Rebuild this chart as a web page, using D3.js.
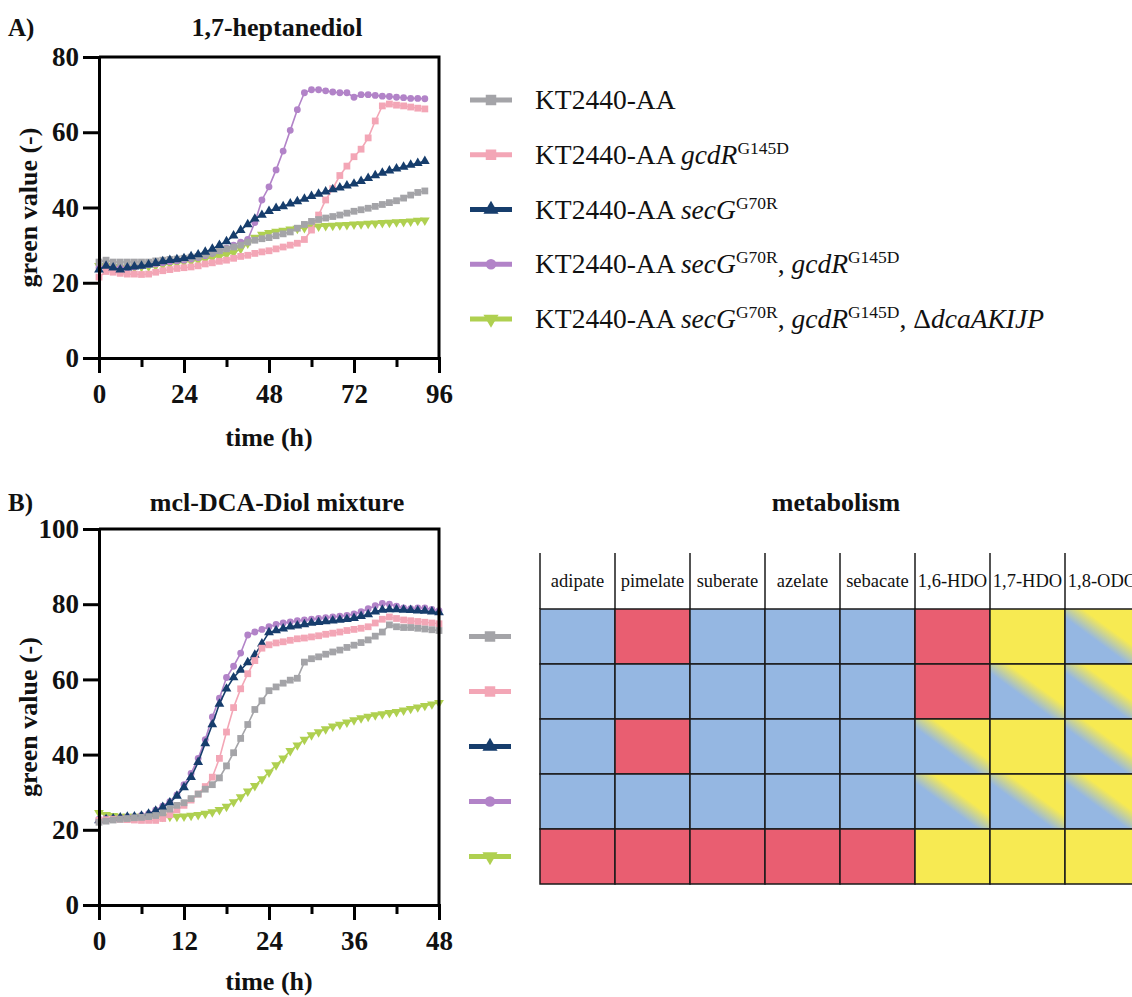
<!DOCTYPE html>
<html>
<head>
<meta charset="utf-8">
<script src="https://cdnjs.cloudflare.com/ajax/libs/d3/7.8.5/d3.min.js"></script>
<style>
  body { margin: 0; background: #fff; }
  svg text { font-family: "Liberation Serif", "Times New Roman", serif; fill: #111; }
</style>
</head>
<body>
<svg id="chart" width="1132" height="997"></svg>
<script>
// ---- data ----
const strains = ["wt", "gcdR", "secG", "secG_gcdR", "secG_gcdR_dca"];
const colors = ["#a4a4a8", "#f3a6b6", "#163d6c", "#b283c8", "#afd050"];
const symbols = ["square", "square", "triUp", "circle", "triDown"];

// legend texts: [text, style] parts
const labels = [
  [["KT2440-AA", ""]],
  [["KT2440-AA ", ""], ["gcdR", "i"], ["G145D", "sup"]],
  [["KT2440-AA ", ""], ["secG", "i"], ["G70R", "sup"]],
  [["KT2440-AA ", ""], ["secG", "i"], ["G70R", "sup"], [", ", ""], ["gcdR", "i"], ["G145D", "sup"]],
  [["KT2440-AA ", ""], ["secG", "i"], ["G70R", "sup"], [", ", ""], ["gcdR", "i"], ["G145D", "sup"], [", \u0394", ""], ["dcaAKIJP", "i"]]
];

// panel A: 1,7-heptanediol, time in h
const timeA = [0, 2, 4, 6, 8, 10, 12, 14, 16, 18, 20, 22, 24, 26, 28, 30, 32, 34, 36, 38, 40, 42, 44, 46,
  48, 50, 52, 54, 56, 58, 60, 62, 64, 66, 68, 70, 72, 74, 76, 78, 80, 82, 84, 86, 88, 90, 92];
const grayA = [25.5, 26, 25.5, 25.5, 25.5, 25.5, 25.5, 25.5, 25.8, 26, 26.2, 26.3, 26.5, 26.8, 27, 27.5, 28, 28.5, 29, 29.5, 30, 30.8, 31.3,
  31.7, 32, 32.5, 33, 33.5, 34.5, 35.5, 36.3, 36.8, 37.2, 37.6, 38, 38.5, 39, 39.4, 39.8, 40.3, 40.8, 41.3, 41.8, 42.5, 43.3, 44, 44.4];
const pinkA = [21.5, 23, 22.8, 22.5, 22.3, 22.3, 22.2, 22.3, 22.8, 23.2, 23.5, 23.8, 24, 24.2, 24.5, 25, 25.3, 25.7, 26, 26.5, 27, 27.3, 27.8,
  28.2, 28.5, 29, 29.5, 30, 30.5, 31.5, 34, 38, 42, 45, 48.5, 51, 53.5, 55.5, 58.5, 63, 67, 67.5, 67.2, 67, 66.7, 66.4, 66.2];
const navyA = [23.5, 24.5, 24, 23.5, 24, 24.3, 24.5, 24.8, 25.2, 25.7, 26, 26.2, 26.5, 27, 27.5, 28.2, 29, 30, 31, 32.5, 34, 35.5, 37,
  38, 39, 39.8, 40.3, 41, 41.6, 42.3, 43, 43.6, 44.2, 44.8, 45.3, 45.8, 46.3, 47, 47.8, 48.5, 49.2, 49.8, 50.3, 50.8, 51.3, 51.8, 52.3];
const purpleA = [24, 24.5, 24, 24, 24, 24.2, 24.5, 24.8, 25, 25.3, 25.6, 25.8, 26, 26.3, 26.7, 27.2, 27.8, 28.5, 29.2, 30, 30.8, 31.5, 36,
  42, 45.5, 50, 55, 60.5, 66, 70.5, 71.3, 71.3, 71, 70.7, 70.5, 70.5, 69.3, 70, 70, 69.8, 69.6, 69.5, 69.3, 69.2, 69, 69, 68.9];
const greenA = [24.5, 24.5, 24.2, 24, 24, 24, 24.2, 24.3, 24.5, 24.7, 25, 25.2, 25.5, 25.7, 26, 26.3, 26.7, 27, 27.5, 28, 29, 30.5, 32,
  32.8, 33.3, 33.6, 33.9, 34.2, 34.4, 34.6, 34.8, 35, 35.1, 35.2, 35.3, 35.4, 35.5, 35.6, 35.7, 35.8, 35.9, 36, 36.1, 36.2, 36.3, 36.5, 36.6];

// panel B: mcl-DCA-Diol mixture
const timeB = [0, 1, 2, 3, 4, 5, 6, 7, 8, 9, 10, 11, 12, 13, 14, 15, 16, 17, 18, 19, 20, 21, 22, 23, 24,
  25, 26, 27, 28, 29, 30, 31, 32, 33, 34, 35, 36, 37, 38, 39, 40, 41, 42, 43, 44, 45, 46, 47, 48];
const grayB = [22, 22.3, 22.6, 22.8, 23, 23.2, 23.3, 23.5, 23.8, 24.5, 25.5, 26.5, 27.2, 28.3, 29.5, 30.8, 32, 33.8, 37, 40.5, 44.3, 48, 52, 54.3, 57,
  58, 59, 59.8, 60.3, 64.6, 65.5, 66, 66.7, 67.3, 67.8, 68.5, 69.1, 69.8, 70.5, 71.5, 72.6, 74.5, 74, 73.8, 73.8, 73.6, 73.4, 73.2, 73];
const pinkB = [22.5, 22.7, 22.8, 22.8, 22.7, 22.6, 22.5, 22.5, 22.5, 23, 24, 25.3, 26.5, 27.9, 29.5, 31.5, 34, 39, 46, 52.5, 57.5, 61.5, 65, 68.3, 69.2,
  69.7, 70, 70.4, 70.8, 71, 71.3, 71.6, 72, 72.3, 72.6, 73, 73.3, 73.6, 74, 75, 76, 76.6, 76.2, 75.8, 75.6, 75.4, 75.2, 75, 74.8];
const navyB = [22.5, 22.8, 23, 23.2, 23.4, 23.5, 23.7, 24.2, 25, 26, 27.2, 29, 31.3, 34, 38, 43, 48, 53.5, 57.5, 60.5, 62.5, 64.5, 66.5, 69.5, 72.5,
  73, 73.5, 74, 74.3, 74.6, 75, 75.2, 75.4, 75.6, 75.8, 76, 76.3, 76.8, 77.3, 78, 78.5, 78.6, 78.6, 78.5, 78.4, 78.3, 78.2, 78, 77.8];
const purpleB = [22.8, 23, 23, 23.2, 23.4, 23.5, 23.8, 24.3, 25.2, 26.3, 27.5, 29.3, 32, 35, 39, 44, 50, 55, 60.5, 63.5, 67, 71.8, 72.6, 73.3, 74,
  74.6, 75, 75.3, 75.6, 75.8, 76, 76.2, 76.4, 76.6, 76.8, 77, 77.4, 78, 78.8, 79.6, 80.2, 80, 79.5, 79, 78.8, 79, 79, 78.6, 78.3];
const greenB = [24.5, 24, 23.7, 23.5, 23.5, 23.5, 23.5, 23.5, 23.5, 23.5, 23.5, 23.5, 23.6, 23.8, 24, 24.3, 24.7, 25.3, 26.2, 27.4, 28.7, 30.2, 31.7, 33.5, 35.3,
  37.2, 39, 41, 42.5, 44, 45.2, 46, 46.8, 47.5, 48, 48.6, 49.2, 49.7, 50.1, 50.5, 50.8, 51.1, 51.4, 51.8, 52.2, 52.6, 53, 53.4, 53.8];

const ticksYA = [0, 20, 40, 60, 80];
const ticksXA = [0, 24, 48, 72, 96];
const minorXA = [12, 36, 60, 84];
const ticksYB = [0, 20, 40, 60, 80, 100];
const ticksXB = [0, 12, 24, 36, 48];
const minorXB = [6, 18, 30, 42];

// metabolism table: B = consumed, R = no growth, Y = growth, G = mixed
const metabolites = ["adipate", "pimelate", "suberate", "azelate", "sebacate", "1,6-HDO", "1,7-HDO", "1,8-ODO"];
const metabolism = [
  ["B", "R", "B", "B", "B", "R", "Y", "G"],
  ["B", "B", "B", "B", "B", "R", "G", "G"],
  ["B", "R", "B", "B", "B", "G", "Y", "G"],
  ["B", "B", "B", "B", "B", "G", "G", "G"],
  ["R", "R", "R", "R", "R", "Y", "Y", "Y"]
];
const cellFill = { B: "#95b7e2", R: "#e95e71", Y: "#f7ea52", G: "url(#mixed)" };

// ---- drawing ----
const svg = d3.select("#chart");
svg.append("rect").attr("width", 1132).attr("height", 997).attr("fill", "#fff");

function symbolPath(kind, size) {
  if (kind === "square") return d3.symbol(d3.symbolSquare, size)();
  if (kind === "circle") return d3.symbol(d3.symbolCircle, size * 0.8)();
  return d3.symbol(d3.symbolTriangle, size * 0.9)();
}

function drawPanel(opt) {
  const g = svg.append("g");
  const x = d3.scaleLinear().domain([0, opt.xMax]).range([99, 439]);
  const y = d3.scaleLinear().domain([0, opt.yMax]).range([opt.bottom, opt.top]);

  // series
  opt.order.forEach((i) => {
    const vals = opt.series[i];
    const pts = opt.time.map((t, k) => [t, vals[k]]);
    g.append("path")
      .attr("d", d3.line().x((d) => x(d[0])).y((d) => y(d[1]))(pts))
      .attr("fill", "none")
      .attr("stroke", colors[i])
      .attr("stroke-width", 1.6);
    g.selectAll(null)
      .data(pts)
      .enter()
      .append("path")
      .attr("d", symbolPath(symbols[i], 46))
      .attr("transform", (d) => `translate(${x(d[0])},${y(d[1])})` + (symbols[i] === "triDown" ? " rotate(180)" : ""))
      .attr("fill", colors[i]);
  });

  // frame
  g.append("path")
    .attr("d", `M${x(0)},${y(opt.yMax)}H${x(opt.xMax)}V${y(0)}`)
    .attr("fill", "none").attr("stroke", "#000").attr("stroke-width", 3);

  const yAxis = d3.axisLeft(y).tickValues(opt.yTicks).tickSize(16).tickSizeOuter(0).tickPadding(4);
  const ya = g.append("g").attr("transform", `translate(${x(0)},0)`).call(yAxis);

  const xAxis = d3.axisBottom(x).tickValues(opt.xTicks).tickSize(15).tickSizeOuter(0).tickPadding(11);
  const xa = g.append("g").attr("transform", `translate(0,${y(0)})`).call(xAxis);
  const xm = g.append("g").attr("transform", `translate(0,${y(0)})`)
    .call(d3.axisBottom(x).tickValues(opt.xMinor).tickSize(9).tickSizeOuter(0).tickFormat(""));
  xm.select(".domain").remove();

  [ya, xa, xm].forEach((a) => {
    a.select(".domain").attr("stroke", "#000").attr("stroke-width", 3).attr("stroke-linecap", "square");
    a.selectAll(".tick line").attr("stroke", "#000").attr("stroke-width", 3);
    a.selectAll(".tick text")
      .attr("font-family", "Liberation Serif, serif")
      .attr("font-weight", "bold")
      .attr("font-size", 27)
      .attr("fill", "#111");
  });

  g.append("text").text(opt.title)
    .attr("x", 277).attr("y", opt.titleY)
    .attr("text-anchor", "middle").attr("dominant-baseline", "central")
    .attr("font-weight", "bold").attr("font-size", 26);
  g.append("text").text(opt.letter)
    .attr("x", 8).attr("y", opt.titleY)
    .attr("dominant-baseline", "central")
    .attr("font-weight", "bold").attr("font-size", 25);
  g.append("text").text("time (h)")
    .attr("x", 269).attr("y", opt.xLabelY)
    .attr("text-anchor", "middle").attr("dominant-baseline", "central")
    .attr("font-weight", "bold").attr("font-size", 26);
  g.append("text").text("green value (-)")
    .attr("transform", `translate(28,${(opt.top + opt.bottom) / 2}) rotate(-90)`)
    .attr("text-anchor", "middle").attr("dominant-baseline", "central")
    .attr("font-weight", "bold").attr("font-size", 26);
}

drawPanel({
  time: timeA, series: [grayA, pinkA, navyA, purpleA, greenA], order: [4, 3, 1, 0, 2],
  xMax: 96, yMax: 80, top: 57, bottom: 358,
  yTicks: ticksYA, xTicks: ticksXA, xMinor: minorXA,
  title: "1,7-heptanediol", letter: "A)", titleY: 27, xLabelY: 437
});
drawPanel({
  time: timeB, series: [grayB, pinkB, navyB, purpleB, greenB], order: [4, 3, 2, 1, 0],
  xMax: 48, yMax: 100, top: 529, bottom: 905,
  yTicks: ticksYB, xTicks: ticksXB, xMinor: minorXB,
  title: "mcl-DCA-Diol mixture", letter: "B)", titleY: 502, xLabelY: 981
});

// legend for panel A
const legY = d3.scalePoint().domain(strains).range([100, 319]);
const legA = svg.append("g");
strains.forEach((s, i) => {
  const cy = legY(s);
  legA.append("line").attr("x1", 470).attr("x2", 512).attr("y1", cy).attr("y2", cy)
    .attr("stroke", colors[i]).attr("stroke-width", 5);
  legA.append("path").attr("d", symbolPath(symbols[i], 110))
    .attr("transform", `translate(491,${cy})` + (symbols[i] === "triDown" ? " rotate(180)" : ""))
    .attr("fill", colors[i]);
  const t = legA.append("text").attr("x", 535).attr("y", cy + 9).attr("font-size", 27.5);
  let shift = 0;
  labels[i].forEach(([txt, st]) => {
    const sp = t.append("tspan").text(txt);
    if (st === "i") sp.attr("font-style", "italic");
    if (st === "sup") {
      sp.attr("font-size", 17.5).attr("dy", -10);
      shift = 10;
    } else if (shift) {
      sp.attr("dy", shift);
      shift = 0;
    }
  });
});

// metabolism table
const col = d3.scaleBand().domain(metabolites).range([540, 540 + 75 * metabolites.length]);
const row = d3.scaleBand().domain(strains).range([609, 884]);
const defs = svg.append("defs");
const grad = defs.append("linearGradient").attr("id", "mixed")
  .attr("x1", 0).attr("y1", 1).attr("x2", 1).attr("y2", 0);
grad.append("stop").attr("offset", 0.42).attr("stop-color", "#95b7e2");
grad.append("stop").attr("offset", 0.62).attr("stop-color", "#f7ea52");

const tab = svg.append("g");
tab.append("text").text("metabolism")
  .attr("x", 836).attr("y", 502)
  .attr("text-anchor", "middle").attr("dominant-baseline", "central")
  .attr("font-weight", "bold").attr("font-size", 26);

tab.selectAll(".head")
  .data(metabolites)
  .enter()
  .append("rect")
  .attr("x", (d) => col(d)).attr("y", 553)
  .attr("width", col.bandwidth()).attr("height", 609 - 553)
  .attr("fill", "#fff");
tab.selectAll(".headtext")
  .data(metabolites)
  .enter()
  .append("text")
  .text((d) => d)
  .attr("x", (d) => col(d) + col.bandwidth() / 2)
  .attr("y", 581)
  .attr("text-anchor", "middle").attr("dominant-baseline", "central")
  .attr("font-size", 18.5);

metabolism.forEach((r, ri) => {
  tab.selectAll(null)
    .data(r)
    .enter()
    .append("rect")
    .attr("x", (d, ci) => col(metabolites[ci]))
    .attr("y", row(strains[ri]))
    .attr("width", col.bandwidth())
    .attr("height", row.bandwidth())
    .attr("fill", (d) => cellFill[d])
    .attr("stroke", "#1a1a1a")
    .attr("stroke-width", 1.5);
});
// header column lines
metabolites.forEach((m) => {
  tab.append("line").attr("x1", col(m)).attr("x2", col(m)).attr("y1", 553).attr("y2", 609)
    .attr("stroke", "#1a1a1a").attr("stroke-width", 1.5);
});

// legend for panel B, aligned with table rows
const legB = svg.append("g");
strains.forEach((s, i) => {
  const cy = row(s) + row.bandwidth() / 2;
  legB.append("line").attr("x1", 469).attr("x2", 511).attr("y1", cy).attr("y2", cy)
    .attr("stroke", colors[i]).attr("stroke-width", 5);
  legB.append("path").attr("d", symbolPath(symbols[i], 110))
    .attr("transform", `translate(490,${cy})` + (symbols[i] === "triDown" ? " rotate(180)" : ""))
    .attr("fill", colors[i]);
});
</script>
</body>
</html>
